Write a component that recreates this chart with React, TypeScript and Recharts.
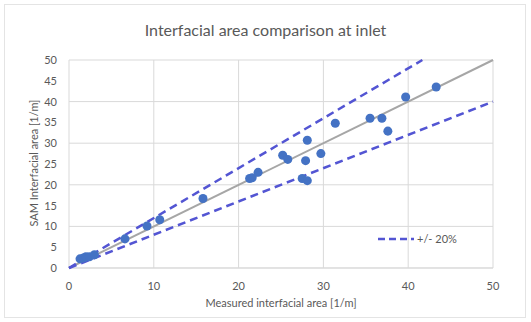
import React from "react";
import { ScatterChart, Scatter, XAxis, YAxis, ZAxis, CartesianGrid, Legend } from "recharts";

// measured vs. SAM interfacial area [1/m]
const measured = [1.3, 1.7, 2.0, 2.4, 3.0, 6.6, 9.2, 10.7, 15.8, 21.3, 21.6, 22.3, 25.2, 25.8, 27.5, 27.9, 28.1, 28.1, 29.7, 31.4, 35.5, 36.9, 37.6, 39.7, 43.3];
const sam = [2.2, 2.4, 2.7, 2.7, 3.2, 7.0, 10.1, 11.6, 16.7, 21.5, 21.7, 23.0, 27.1, 26.1, 21.5, 25.8, 30.7, 21.0, 27.5, 34.8, 36.0, 36.0, 32.9, 41.1, 43.5];

const xTicks = [0, 10, 20, 30, 40, 50];
const yTicks = [0, 5, 10, 15, 20, 25, 30, 35, 40, 45, 50];

const parityX = [0, 50];
const parityY = [0, 50];
const upperX = [0, 41.67];
const upperY = [0, 50];
const lowerX = [0, 50];
const lowerY = [0, 40];

const toPts = (xs: number[], ys: number[]) => xs.map((x, i) => ({ x, y: ys[i] }));

const points = toPts(measured, sam);
const parity = toPts(parityX, parityY);
const upper = toPts(upperX, upperY);
const lower = toPts(lowerX, lowerY);

const FONT = "Lato, 'Open Sans', sans-serif";
const TXT = "#595959";
const DASH = "#5355d3";

const noDot = () => <g />;

const LegendBox = () => (
  <div style={{ display: "flex", alignItems: "center", fontFamily: FONT, fontSize: 11, color: TXT }}>
    <svg width={36} height={8}>
      <line x1={0} y1={4} x2={36} y2={4} stroke={DASH} strokeWidth={2.5} strokeDasharray="7 4" />
    </svg>
    <span style={{ marginLeft: 3 }}>+/- 20%</span>
  </div>
);

export default function App() {
  return (
    <div style={{ position: "absolute", left: 0, top: 0, width: 531, height: 322, background: "#fff" }}>
      <div style={{ position: "absolute", left: 4, top: 4, width: 520, height: 312, border: "1px solid #e4e4e4" }} />
      <div style={{ position: "absolute", left: 0, top: 20, width: 531, textAlign: "center", fontFamily: FONT, fontSize: 16, color: TXT }}>
        Interfacial area comparison at inlet
      </div>
      <div
        style={{
          position: "absolute",
          left: 33,
          top: 163,
          transform: "translate(-50%, -50%) rotate(-90deg)",
          whiteSpace: "nowrap",
          fontFamily: FONT,
          fontSize: 11,
          color: TXT,
        }}
      >
        SAM Interfacial area [1/m]
      </div>
      <div style={{ position: "absolute", left: 69, top: 296, width: 424, textAlign: "center", fontFamily: FONT, fontSize: 11, color: TXT }}>
        Measured interfacial area [1/m]
      </div>
      <ScatterChart width={531} height={322} margin={{ top: 60, right: 38, bottom: 11, left: 41 }} style={{ position: "absolute", left: 0, top: 0 }}>
        <CartesianGrid stroke="#d9d9d9" strokeWidth={1} />
        <XAxis
          type="number"
          dataKey="x"
          domain={[0, 50]}
          ticks={xTicks}
          height={30}
          tickLine={false}
          axisLine={{ stroke: "#d9d9d9" }}
          tick={{ fontSize: 11, fill: TXT, fontFamily: FONT }}
          tickMargin={8}
        />
        <YAxis
          type="number"
          dataKey="y"
          domain={[0, 50]}
          ticks={yTicks}
          width={28}
          tickLine={false}
          axisLine={false}
          tick={{ fontSize: 11, fill: TXT, fontFamily: FONT }}
          tickMargin={6}
        />
        <ZAxis range={[36, 36]} />
        <Scatter data={parity} line={{ stroke: "#a6a6a6", strokeWidth: 2 }} shape={noDot} legendType="none" isAnimationActive={false} />
        <Scatter data={upper} line={{ stroke: DASH, strokeWidth: 2.5, strokeDasharray: "8 5" }} shape={noDot} legendType="none" isAnimationActive={false} />
        <Scatter data={lower} line={{ stroke: DASH, strokeWidth: 2.5, strokeDasharray: "8 5" }} shape={noDot} legendType="none" isAnimationActive={false} />
        <Scatter data={points} fill="#4472c4" shape="circle" legendType="none" isAnimationActive={false} />
        <Legend content={<LegendBox />} wrapperStyle={{ position: "absolute", left: 378, top: 232, width: 110 }} />
      </ScatterChart>
    </div>
  );
}
